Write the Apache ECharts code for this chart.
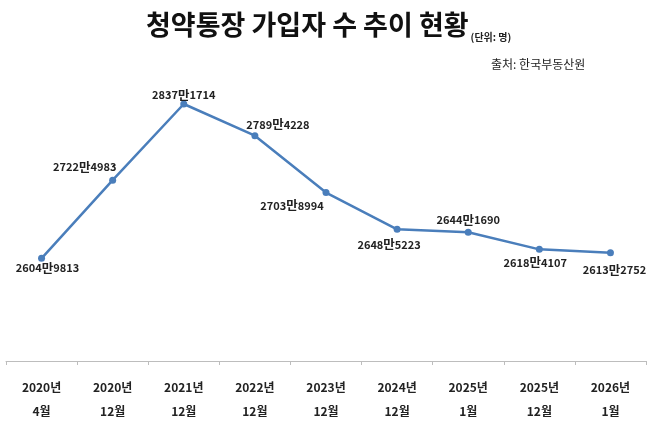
<!DOCTYPE html>
<html>
<head>
<meta charset="utf-8">
<script src="https://cdn.jsdelivr.net/npm/echarts@6/dist/echarts.min.js"></script>
<style>
  html, body { margin: 0; padding: 0; background: #fff; }
  #main { width: 655px; height: 431px; }
</style>
</head>
<body>
<div id="main"></div>
<script>
	// 기간 (축 라벨)
	var periods = ['2020년\n4월', '2020년\n12월', '2021년\n12월', '2022년\n12월', '2023년\n12월',
		'2024년\n12월', '2025년\n1월', '2025년\n12월', '2026년\n1월'];
	// 가입자 수 (명)
	var subscribers = [26049813, 27224983, 28371714, 27894228, 27038994,
		26485223, 26441690, 26184107, 26132752];
	// 라벨 위치 조정 (점 기준 px)
	var labelShift = [[6, 10], [-28, -13], [0, -9], [23, -11], [-34, 13],
		[-8, 15], [0, -12], [-4, 13], [4, 17]];

	var fontKr = 'Noto Sans CJK KR';

	function fmt(v) {
		var man = Math.floor(v / 10000);
		var rest = v % 10000;
		return '{n|' + man + '}{m|만}{n|' + rest + '}';
	}

	var myChart = echarts.init(document.getElementById('main'));
	var option = {
		backgroundColor: '#fff',
		title: [{
			text: '{a|청약통장 가입자 수 추이 현황}{b|(단위: 명)}',
			left: 141,
			top: 3,
			textStyle: {
				rich: {
					a: { fontFamily: fontKr, fontSize: 27, fontWeight: 'bold', color: '#111', lineHeight: 34 },
					b: { fontFamily: fontKr, fontSize: 10, color: '#222', verticalAlign: 'bottom', padding: [0, 0, 0, 2] }
				}
			}
		}, {
			text: '출처: 한국부동산원',
			left: 486,
			top: 53,
			textStyle: { fontFamily: fontKr, fontSize: 12, fontWeight: 'normal', color: '#222' }
		}],
		grid: { left: 6, right: 9, top: 80, bottom: 70 },
		xAxis: {
			type: 'category',
			data: periods,
			boundaryGap: true,
			axisLine: { lineStyle: { color: '#bdbdbd', width: 1 } },
			axisTick: { show: true, length: 4, lineStyle: { color: '#bdbdbd' } },
			axisLabel: {
				margin: 14,
				fontFamily: fontKr,
				fontSize: 12,
				fontWeight: 'bold',
				color: '#222',
				lineHeight: 24
			}
		},
		yAxis: {
			type: 'value',
			min: 24504000,
			max: 28733000,
			show: false,
			splitLine: { show: false }
		},
		series: [{
			type: 'line',
			data: subscribers.map(function (v, i) {
				return {
					value: v,
					label: { offset: labelShift[i] }
				};
			}),
			symbol: 'circle',
			symbolSize: 7,
			lineStyle: { color: '#4a7ebb', width: 2.5 },
			itemStyle: { color: '#4a7ebb' },
			label: {
				show: true,
				position: 'inside',
				formatter: function (p) { return fmt(p.value); },
				rich: {
					n: { fontFamily: fontKr, fontSize: 11, fontWeight: 'bold', color: '#222' },
					m: { fontFamily: fontKr, fontSize: 12.5, fontWeight: 'bold', color: '#222' }
				}
			},
			animation: false
		}]
	};
	myChart.setOption(option);
</script>
</body>
</html>
